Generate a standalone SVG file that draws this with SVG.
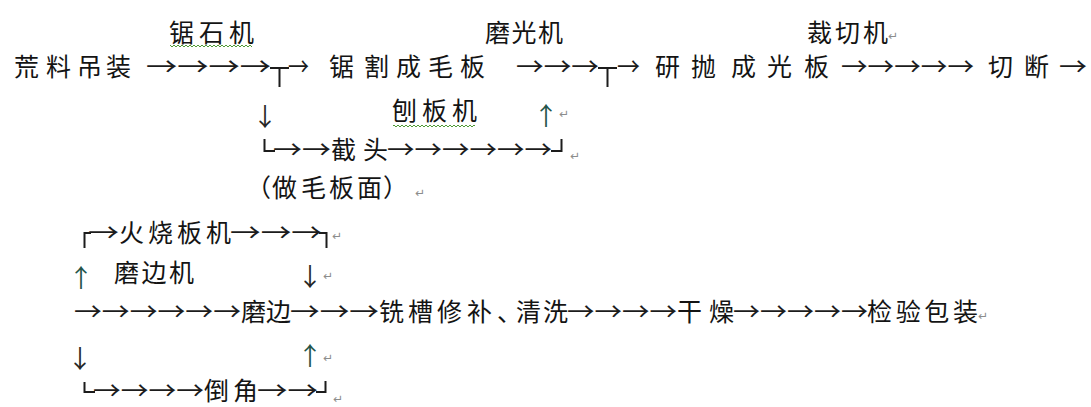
<svg xmlns="http://www.w3.org/2000/svg" width="1091" height="407" viewBox="0 0 1091 407">
<style>
text { font-family: "Noto Sans CJK SC", "Noto Sans CJK JP", sans-serif; font-size: 25px; fill: #141414; }
.ar { fill: #1c1c1c; }
.up { fill: #24544a; }
.dn { fill: #262626; }
.bx { fill: none; stroke: #1c1c1c; stroke-width: 2; }
.pm { font-family: "DejaVu Sans", "Noto Sans CJK SC", sans-serif; font-size: 12px; fill: #8c8c8c; }
</style>
<defs>
<pattern id="wavy" width="4" height="4" patternUnits="userSpaceOnUse">
<path d="M0,3 L2,1 L4,3" fill="none" stroke="#4f9a35" stroke-width="1"/>
</pattern>
</defs>
<rect width="1091" height="407" fill="#ffffff"/>

<!-- machine labels -->
<g id="n-jushiji"><text x="169" y="41.5" textLength="85" lengthAdjust="spacing">锯石机</text><rect x="170" y="44" width="82" height="4" fill="url(#wavy)"/></g>
<g id="n-moguangji"><text x="485" y="41.5" textLength="78" lengthAdjust="spacing">磨光机</text></g>
<g id="n-caiqieji"><text x="807" y="41.5" textLength="81" lengthAdjust="spacing">裁切机</text><text class="pm" x="888" y="40">↵</text></g>
<g id="n-baobanji"><text x="392" y="119.5" textLength="85" lengthAdjust="spacing">刨板机</text><rect x="393" y="124" width="82" height="4" fill="url(#wavy)"/></g>
<g id="n-huoshaobanji"><text x="119" y="242" textLength="112" lengthAdjust="spacing">火烧板机</text></g>
<g id="n-mobianji"><text x="114" y="282" textLength="80" lengthAdjust="spacing">磨边机</text></g>

<!-- process nodes -->
<g id="n-huangliao"><text x="14 46 77 106" y="76">荒料吊装</text></g>
<g id="n-maoban"><text x="329 364 396 428 460" y="76">锯割成毛板</text></g>
<g id="n-guangban"><text x="655 691 731 767 804" y="76">研抛成光板</text></g>
<g id="n-qieduan"><text x="988 1024" y="76">切断</text></g>
<g id="n-jietou"><text x="331" y="159" textLength="57" lengthAdjust="spacing">截头</text></g>
<g id="n-zuomaobanmian"><text x="246 272 301 329 357 383" y="197">（做毛板面）</text><text class="pm" x="415" y="197">↵</text></g>
<g id="n-mobian"><text x="241" y="321" textLength="50" lengthAdjust="spacing">磨边</text></g>
<g id="n-xicao"><text x="379 408 437 467 497 516 543" y="321">铣槽修补、清洗</text></g>
<g id="n-ganzao"><text x="677" y="321" textLength="57" lengthAdjust="spacing">干燥</text></g>
<g id="n-jianyan"><text x="867" y="321" textLength="111" lengthAdjust="spacing">检验包装</text><text class="pm" x="978" y="320">↵</text></g>
<g id="n-daojiao"><text x="204" y="400" textLength="54" lengthAdjust="spacing">倒角</text></g>

<!-- connectors -->
<g id="connectors">
<!-- main row -->
<text class="ar" x="146" y="76" textLength="125" lengthAdjust="spacingAndGlyphs">→→→→</text>
<path class="bx" d="M270,68 H289 M279.5,68 V87"/>
<text class="ar" x="288" y="76" textLength="21" lengthAdjust="spacingAndGlyphs">→</text>
<text class="ar" x="516" y="76" textLength="83" lengthAdjust="spacingAndGlyphs">→→→</text>
<path class="bx" d="M598,68 H617 M607.5,68 V87"/>
<text class="ar" x="617" y="76" textLength="23" lengthAdjust="spacingAndGlyphs">→</text>
<text class="ar" x="841" y="76" textLength="133" lengthAdjust="spacingAndGlyphs">→→→→→</text>
<text class="ar" x="1059" y="76" textLength="28" lengthAdjust="spacingAndGlyphs">→</text>

<!-- 截头 branch -->
<text class="dn" x="265" y="126" text-anchor="middle">↓</text>
<text class="up" x="546" y="124.5" text-anchor="middle">↑</text>
<text class="pm" x="559" y="118">↵</text>
<path class="bx" d="M264.5,139 V151 H275"/>
<text class="ar" x="273" y="159" textLength="58" lengthAdjust="spacingAndGlyphs">→→</text>
<text class="ar" x="387" y="159" textLength="165" lengthAdjust="spacingAndGlyphs">→→→→→→</text>
<path class="bx" d="M551,151 H561.5 V139"/>
<text class="pm" x="570" y="160">↵</text>

<!-- 火烧板机 branch -->
<path class="bx" d="M84.5,248 V233 H91"/>
<text class="ar" x="88" y="242" textLength="31" lengthAdjust="spacingAndGlyphs">→</text>
<text class="ar" x="230" y="242" textLength="92" lengthAdjust="spacingAndGlyphs">→→→</text>
<path class="bx" d="M319,233 H326.5 V248"/>
<text class="pm" x="332" y="240">↵</text>
<text class="up" x="81" y="287" text-anchor="middle">↑</text>
<text class="dn" x="310" y="286" text-anchor="middle">↓</text>
<text class="pm" x="323" y="280">↵</text>

<!-- lower main row -->
<text class="ar" x="74" y="321" textLength="167" lengthAdjust="spacingAndGlyphs">→→→→→→</text>
<text class="ar" x="290" y="321" textLength="89" lengthAdjust="spacingAndGlyphs">→→→</text>
<text class="ar" x="567" y="321" textLength="110" lengthAdjust="spacingAndGlyphs">→→→→</text>
<text class="ar" x="733" y="321" textLength="135" lengthAdjust="spacingAndGlyphs">→→→→→</text>

<!-- 倒角 branch -->
<text class="dn" x="80" y="368" text-anchor="middle">↓</text>
<text class="up" x="310" y="364.5" text-anchor="middle">↑</text>
<text class="pm" x="323" y="362">↵</text>
<path class="bx" d="M84.5,382 V392 H95"/>
<text class="ar" x="93" y="400" textLength="111" lengthAdjust="spacingAndGlyphs">→→→→</text>
<text class="ar" x="257" y="400" textLength="61" lengthAdjust="spacingAndGlyphs">→→</text>
<path class="bx" d="M316,392 H325.5 V381"/>
<text class="pm" x="333" y="403">↵</text>
</g>
</svg>
